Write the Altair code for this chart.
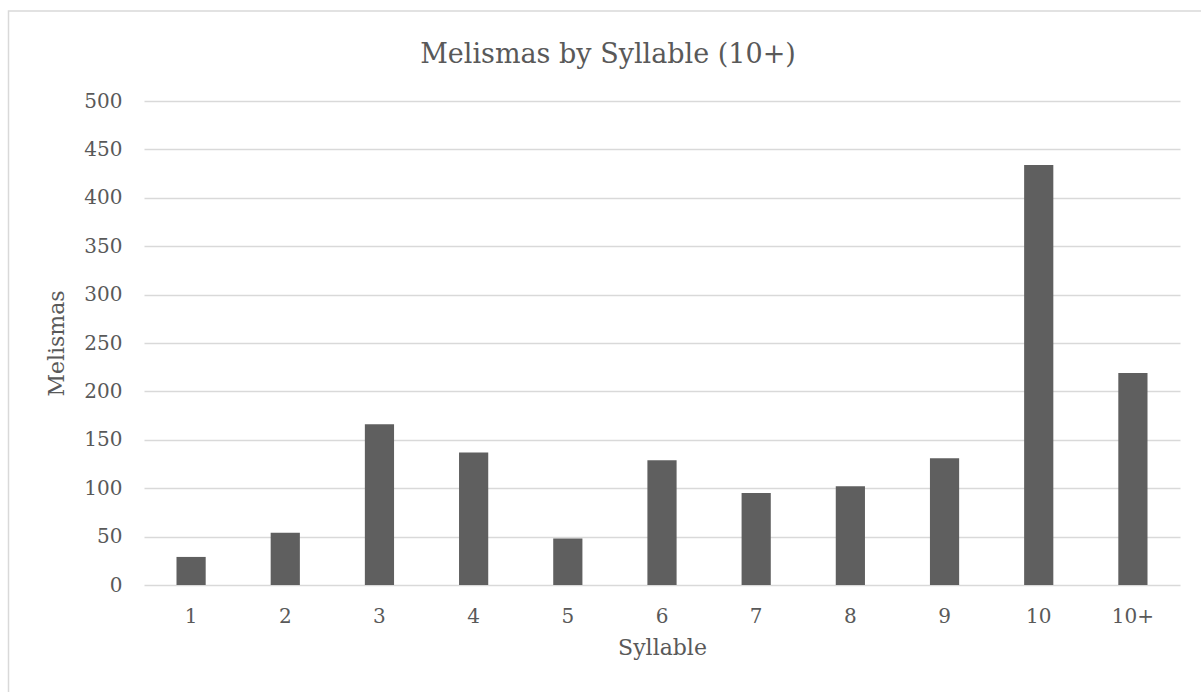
import altair as alt
import pandas as pd

categories = ["1", "2", "3", "4", "5", "6", "7", "8", "9", "10", "10+"]
melismas = [29, 54, 166, 137, 48, 129, 95, 102, 131, 434, 219]
y_ticks = [0, 50, 100, 150, 200, 250, 300, 350, 400, 450, 500]

df = pd.DataFrame({"Syllable": categories, "Melismas": melismas})
frame_df = pd.DataFrame({"k": [0]})

FONT = "DejaVu Serif"
TEXT = "#595959"
GRID = "#d9d9d9"

frame = alt.Chart(frame_df).mark_rect(
    fillOpacity=0, stroke=GRID, strokeWidth=1.5
).encode(
    x=alt.value(-135.5), x2=alt.value(1100), y=alt.value(-90), y2=alt.value(700)
)

bars = alt.Chart(df).mark_bar(color="#5f5f5f").encode(
    x=alt.X(
        "Syllable:N",
        sort=categories,
        scale=alt.Scale(paddingInner=0.69, paddingOuter=0.345),
        axis=alt.Axis(
            title="Syllable",
            labelAngle=0,
            labelFont=FONT,
            labelFontSize=20,
            labelColor=TEXT,
            labelPadding=21,
            ticks=False,
            tickSize=0,
            domain=False,
            grid=False,
            titleFont=FONT,
            titleFontSize=22,
            titleFontWeight="normal",
            titleColor=TEXT,
            titlePadding=11,
        ),
    ),
    y=alt.Y(
        "Melismas:Q",
        scale=alt.Scale(domain=[0, 500], nice=False),
        axis=alt.Axis(
            title="Melismas",
            values=y_ticks,
            labelFont=FONT,
            labelFontSize=20,
            labelColor=TEXT,
            labelPadding=22,
            ticks=False,
            tickSize=0,
            domain=False,
            grid=True,
            gridColor=GRID,
            gridWidth=1.3,
            titleFont=FONT,
            titleFontSize=22,
            titleFontWeight="normal",
            titleColor=TEXT,
            titlePadding=15,
        ),
    ),
)

chart = alt.layer(frame, bars).properties(
    width=1036,
    height=484,
    autosize="none",
    padding={"left": 144, "top": 101, "right": 21, "bottom": 107},
    title=alt.Title(
        "Melismas by Syllable (10+)",
        font=FONT,
        fontSize=27,
        fontWeight="normal",
        color=TEXT,
        anchor="middle",
        frame="group",
        dx=-54,
        offset=-80,
        baseline="alphabetic",
    ),
).configure_view(stroke=None)

chart.save("out.html", embed_options={"renderer": "svg", "actions": False})
